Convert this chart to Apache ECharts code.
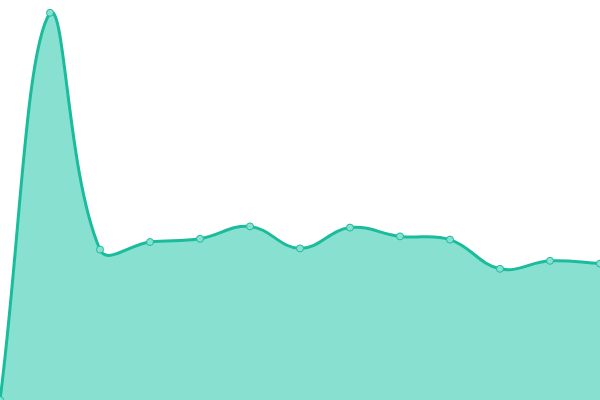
<!DOCTYPE html>
<html>
<head>
<meta charset="utf-8">
<script src="https://cdn.jsdelivr.net/npm/echarts@6/dist/echarts.min.js"></script>
<style>
  html, body { margin: 0; padding: 0; background: #fff; }
  #main { width: 600px; height: 400px; }
</style>
</head>
<body>
<div id="main"></div>
<script>
// data
var categories = ['1', '2', '3', '4', '5', '6', '7', '8', '9', '10', '11', '12', '13'];
var values = [0, 96.8, 37.6, 39.5, 40.3, 43.4, 37.9, 43.1, 40.9, 40.1, 32.8, 34.8, 34.1];

var lineColor = '#1abc9c';
var fillColor = '#88e0d0';
var tension = 0.4;

// spline through pixel points (control points from neighbours, kept inside the grid)
function buildPath(pts, rect) {
    var cps = pts.map(function (p, i) {
        var prev = pts[i - 1] || p, next = pts[i + 1] || p;
        var d01 = Math.hypot(p[0] - prev[0], p[1] - prev[1]);
        var d12 = Math.hypot(next[0] - p[0], next[1] - p[1]);
        var s01 = d01 / (d01 + d12 || 1), s12 = d12 / (d01 + d12 || 1);
        var fa = tension * s01, fb = tension * s12;
        var inCp = [p[0] - fa * (next[0] - prev[0]), p[1] - fa * (next[1] - prev[1])];
        var outCp = [p[0] + fb * (next[0] - prev[0]), p[1] + fb * (next[1] - prev[1])];
        [inCp, outCp].forEach(function (c) {
            c[0] = Math.min(Math.max(c[0], rect.x), rect.x + rect.width);
            c[1] = Math.min(Math.max(c[1], rect.y), rect.y + rect.height);
        });
        return { inCp: inCp, outCp: outCp };
    });
    var d = 'M' + pts[0][0] + ' ' + pts[0][1];
    for (var i = 1; i < pts.length; i++) {
        d += ' C' + cps[i - 1].outCp[0] + ' ' + cps[i - 1].outCp[1] + ' ' +
            cps[i].inCp[0] + ' ' + cps[i].inCp[1] + ' ' + pts[i][0] + ' ' + pts[i][1];
    }
    return d;
}

var myChart = echarts.init(document.getElementById('main'));

var option = {
    animation: false,
    grid: { left: 0, right: 0, top: 0, bottom: 0 },
    xAxis: {
        type: 'category',
        data: categories,
        boundaryGap: false,
        show: false
    },
    yAxis: {
        type: 'value',
        min: 0,
        max: 100,
        show: false
    },
    series: [{
        // smooth area + line
        type: 'custom',
        data: values.map(function (v, i) { return [i, v]; }),
        encode: { x: 0, y: 1 },
        renderItem: function (params, api) {
            if (params.dataIndex !== 0) return;
            var rect = params.coordSys;
            var pts = values.map(function (v, i) { return api.coord([i, v]); });
            var line = buildPath(pts, rect);
            var bottom = rect.y + rect.height;
            var area = line + ' L' + pts[pts.length - 1][0] + ' ' + bottom +
                ' L' + pts[0][0] + ' ' + bottom + ' Z';
            return {
                type: 'group',
                children: [{
                    type: 'path',
                    shape: { pathData: area },
                    style: { fill: fillColor, stroke: null }
                }, {
                    type: 'path',
                    shape: { pathData: line },
                    style: { fill: null, stroke: lineColor, lineWidth: 3 }
                }]
            };
        }
    }, {
        // point markers
        type: 'line',
        data: values,
        z: 5,
        symbol: 'circle',
        symbolSize: 7,
        lineStyle: { width: 0, opacity: 0 },
        itemStyle: { color: fillColor, borderColor: lineColor, borderWidth: 1 }
    }]
};

myChart.setOption(option);
</script>
</body>
</html>
